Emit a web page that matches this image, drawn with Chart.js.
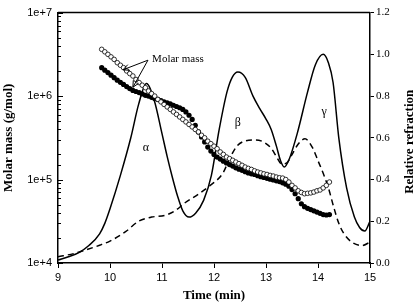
<!DOCTYPE html>
<html>
<head>
<meta charset="utf-8">
<script src="https://cdn.jsdelivr.net/npm/chart.js@4.4.1/dist/chart.umd.min.js"></script>
<style>
  html, body { margin: 0; padding: 0; background: #fff; }
  canvas { display: block; }
</style>
</head>
<body>
<canvas id="chart" width="416" height="305"></canvas>
<script>
// Elution times (min) of the molar mass points
const massTimes = [
  9.84, 9.90, 9.96, 10.02, 10.08, 10.14, 10.20, 10.26, 10.32, 10.38,
  10.44, 10.50, 10.56, 10.62, 10.68, 10.74, 10.80, 10.86, 10.92, 10.98,
  11.04, 11.10, 11.16, 11.22, 11.28, 11.34, 11.40, 11.46, 11.52, 11.58,
  11.64, 11.70, 11.76, 11.82, 11.88, 11.94, 12.00, 12.06, 12.12, 12.18,
  12.24, 12.30, 12.36, 12.42, 12.48, 12.54, 12.60, 12.66, 12.72, 12.78,
  12.84, 12.90, 12.96, 13.02, 13.08, 13.14, 13.20, 13.26, 13.32, 13.38,
  13.44, 13.50, 13.56, 13.62, 13.68, 13.74, 13.80, 13.86, 13.92, 13.98,
  14.04, 14.10, 14.16, 14.22
];
// Molar mass (g/mol), open circles
const massOpen = [
  3.63e6, 3.39e6, 3.16e6, 2.95e6, 2.75e6, 2.51e6, 2.34e6, 2.19e6, 2.00e6, 1.86e6,
  1.74e6, 1.58e6, 1.45e6, 1.35e6, 1.26e6, 1.15e6, 1.07e6, 1.00e6, 9.12e5, 8.51e5,
  7.94e5, 7.41e5, 6.92e5, 6.46e5, 6.03e5, 5.62e5, 5.25e5, 4.90e5, 4.57e5, 4.27e5,
  3.98e5, 3.72e5, 3.39e5, 3.16e5, 2.88e5, 2.69e5, 2.51e5, 2.34e5, 2.14e5, 2.00e5,
  1.86e5, 1.78e5, 1.70e5, 1.62e5, 1.55e5, 1.48e5, 1.41e5, 1.36e5, 1.32e5, 1.27e5,
  1.23e5, 1.20e5, 1.17e5, 1.15e5, 1.12e5, 1.10e5, 1.07e5, 1.05e5, 1.04e5, 1.00e5,
  9.33e4, 8.51e4, 7.94e4, 7.33e4, 7.00e4, 6.76e4, 6.84e4, 6.92e4, 7.08e4, 7.33e4,
  7.50e4, 7.94e4, 8.51e4, 9.33e4
];
// Molar mass (g/mol), filled circles
const massFilled = [
  2.19e6, 2.04e6, 1.91e6, 1.78e6, 1.66e6, 1.55e6, 1.46e6, 1.38e6, 1.30e6, 1.23e6,
  1.17e6, 1.135e6, 1.10e6, 1.06e6, 1.02e6, 1.00e6, 9.66e5, 9.33e5, 9.12e5, 8.81e5,
  8.51e5, 8.32e5, 8.04e5, 7.76e5, 7.50e5, 7.24e5, 6.92e5, 6.46e5, 5.89e5, 5.25e5,
  4.47e5, 3.72e5, 3.24e5, 2.82e5, 2.45e5, 2.19e5, 2.00e5, 1.86e5, 1.76e5, 1.66e5,
  1.58e5, 1.51e5, 1.45e5, 1.38e5, 1.33e5, 1.29e5, 1.24e5, 1.20e5, 1.17e5, 1.15e5,
  1.11e5, 1.08e5, 1.06e5, 1.035e5, 1.01e5, 9.89e4, 9.66e4, 9.44e4, 9.12e4, 8.81e4,
  8.32e4, 7.59e4, 6.76e4, 5.89e4, 5.13e4, 4.73e4, 4.52e4, 4.37e4, 4.22e4, 4.07e4,
  3.94e4, 3.80e4, 3.76e4, 3.80e4
];

// Relative refraction, solid trace
const solidTimes = [
  9.0, 9.2, 9.4, 9.6, 9.8, 9.9, 10.0, 10.2, 10.4, 10.55,
  10.7, 10.85, 11.0, 11.1, 11.2, 11.3, 11.4, 11.52, 11.65, 11.8,
  11.95, 12.1, 12.25, 12.35, 12.46, 12.6, 12.75, 12.88, 13.0, 13.1,
  13.2, 13.28, 13.35, 13.45, 13.6, 13.8, 13.95, 14.1, 14.2, 14.29,
  14.4, 14.55, 14.7, 14.8, 14.9, 15.0
];
const solidRI = [
  0.014, 0.03, 0.05, 0.085, 0.14, 0.19, 0.26, 0.42, 0.60, 0.76,
  0.86, 0.78, 0.62, 0.51, 0.41, 0.32, 0.25, 0.22, 0.24, 0.30,
  0.42, 0.64, 0.82, 0.89, 0.915, 0.89, 0.80, 0.74, 0.69, 0.64,
  0.56, 0.49, 0.46, 0.50, 0.62, 0.82, 0.95, 1.0, 0.96, 0.865,
  0.60, 0.36, 0.22, 0.17, 0.153, 0.2
];

// Relative refraction, dashed trace
const dashTimes = [
  9.0, 9.3, 9.5, 9.8, 10.0, 10.3, 10.55, 10.8, 11.05, 11.25,
  11.45, 11.7, 11.92, 12.17, 12.3, 12.44, 12.6, 12.8, 12.95, 13.1,
  13.2, 13.3, 13.4, 13.5, 13.62, 13.75, 13.9, 14.0, 14.1, 14.2,
  14.3, 14.4, 14.5, 14.65, 14.85, 15.0
];
const dashRI = [
  0.03, 0.045, 0.06, 0.085, 0.105, 0.15, 0.20, 0.22, 0.228, 0.25,
  0.29, 0.33, 0.37, 0.43, 0.50, 0.56, 0.585, 0.59, 0.58, 0.55,
  0.51, 0.475, 0.48, 0.52, 0.57, 0.595, 0.55, 0.49, 0.43, 0.36,
  0.27, 0.19, 0.14, 0.10, 0.084, 0.10
];

const xTicks = [9, 10, 11, 12, 13, 14, 15];

// peak labels, placed in (time, relative refraction) units
const peakLabels = [
  { text: 'α', t: 10.69, v: 0.553 },
  { text: 'β', t: 12.46, v: 0.674 },
  { text: 'γ', t: 14.12, v: 0.726 },
];

const toPoints = (xs, ys) => xs.map((x, i) => ({ x, y: ys[i] }));
const isDecade = (v) => Math.abs(Math.log10(v) - Math.round(Math.log10(v))) < 1e-9;

function arrow(ctx, x0, y0, x1, y1) {
  const ang = Math.atan2(y1 - y0, x1 - x0);
  const len = 7, spread = 0.45;
  ctx.beginPath();
  ctx.moveTo(x0, y0);
  ctx.lineTo(x1, y1);
  ctx.moveTo(x1 - len * Math.cos(ang - spread), y1 - len * Math.sin(ang - spread));
  ctx.lineTo(x1, y1);
  ctx.lineTo(x1 - len * Math.cos(ang + spread), y1 - len * Math.sin(ang + spread));
  ctx.stroke();
}

const decor = {
  id: 'decor',
  afterDraw(chart) {
    const { ctx, chartArea: a, scales } = chart;
    const x = scales.x, y = scales.y, y2 = scales.y2;
    ctx.save();
    ctx.strokeStyle = '#000';
    ctx.fillStyle = '#000';

    // top frame
    ctx.lineWidth = 1.5;
    ctx.beginPath();
    ctx.moveTo(a.left, a.top);
    ctx.lineTo(a.right, a.top);
    ctx.stroke();

    // inward ticks on the log axis
    ctx.lineWidth = 1;
    y.ticks.forEach((t) => {
      const py = Math.round(y.getPixelForValue(t.value)) + 0.5;
      const len = isDecade(t.value) ? 5 : 3;
      ctx.beginPath();
      ctx.moveTo(a.left, py);
      ctx.lineTo(a.left + len, py);
      ctx.stroke();
    });

    // axis titles
    ctx.font = 'bold 13px "Liberation Serif"';
    ctx.textAlign = 'center';
    ctx.textBaseline = 'middle';
    const cy = (a.top + a.bottom) / 2;
    ctx.save();
    ctx.translate(9, cy);
    ctx.rotate(-Math.PI / 2);
    ctx.fillText('Molar mass (g/mol)', 0, 0);
    ctx.restore();
    ctx.save();
    ctx.translate(410, cy + 4);
    ctx.rotate(-Math.PI / 2);
    ctx.fillText('Relative refraction', 0, 0);
    ctx.restore();
    ctx.fillText('Time (min)', (a.left + a.right) / 2, 296);

    // peak labels
    ctx.font = '12px "Liberation Serif"';
    peakLabels.forEach((p) => {
      ctx.fillText(p.text, x.getPixelForValue(p.t), y2.getPixelForValue(p.v));
    });

    // "Molar mass" callout with two arrows
    ctx.font = '11px "Liberation Serif"';
    ctx.textAlign = 'left';
    ctx.fillText('Molar mass', x.getPixelForValue(10.81), y2.getPixelForValue(0.977));
    const ox = x.getPixelForValue(10.73), oy = y2.getPixelForValue(0.972);
    ctx.lineWidth = 1;
    arrow(ctx, ox, oy, x.getPixelForValue(10.25), y2.getPixelForValue(0.926));
    arrow(ctx, ox, oy, x.getPixelForValue(10.44), y2.getPixelForValue(0.842));
    ctx.restore();
  }
};

new Chart(document.getElementById('chart'), {
  type: 'scatter',
  data: {
    datasets: [
      {
        label: 'Molar mass (open)',
        data: toPoints(massTimes, massOpen),
        yAxisID: 'y',
        showLine: false,
        pointRadius: 2.3,
        pointBackgroundColor: '#fff',
        pointBorderColor: '#000',
        pointBorderWidth: 0.8,
        order: 0,
      },
      {
        label: 'Molar mass (filled)',
        data: toPoints(massTimes, massFilled),
        yAxisID: 'y',
        showLine: false,
        pointRadius: 2.6,
        pointBackgroundColor: '#000',
        pointBorderColor: '#000',
        pointBorderWidth: 0,
        order: 1,
      },
      {
        label: 'RI solid',
        data: toPoints(solidTimes, solidRI),
        yAxisID: 'y2',
        showLine: true,
        pointRadius: 0,
        borderColor: '#000',
        borderWidth: 1.5,
        cubicInterpolationMode: 'monotone',
        order: 2,
      },
      {
        label: 'RI dashed',
        data: toPoints(dashTimes, dashRI),
        yAxisID: 'y2',
        showLine: true,
        pointRadius: 0,
        borderColor: '#000',
        borderWidth: 1.5,
        borderDash: [6, 4],
        cubicInterpolationMode: 'monotone',
        order: 3,
      },
    ],
  },
  options: {
    responsive: false,
    animation: false,
    devicePixelRatio: 1,
    layout: { padding: { top: 5, left: 0, right: 0, bottom: 0 } },
    plugins: {
      legend: { display: false },
      tooltip: { enabled: false },
    },
    scales: {
      x: {
        type: 'linear',
        min: 9,
        max: 15,
        afterBuildTicks: (s) => { s.ticks = xTicks.map((v) => ({ value: v })); },
        afterFit: (s) => { s.height = 42; },
        ticks: {
          color: '#000',
          font: { family: 'Liberation Sans', size: 11 },
          padding: 3,
          callback: (v) => String(v),
        },
        grid: { drawOnChartArea: false, drawTicks: true, tickLength: 5, color: '#000' },
        border: { display: true, color: '#000', width: 1.5 },
      },
      y: {
        type: 'logarithmic',
        position: 'left',
        min: 1e4,
        max: 1e7,
        afterFit: (s) => { s.width = 58; },
        ticks: {
          color: '#000',
          autoSkip: false,
          font: { family: 'Liberation Sans', size: 11 },
          padding: 6,
          callback: (v) => (isDecade(v) ? '1e+' + Math.round(Math.log10(v)) : ''),
        },
        grid: { drawOnChartArea: false, drawTicks: false, color: '#000' },
        border: { display: true, color: '#000', width: 1.5 },
      },
      y2: {
        type: 'linear',
        position: 'right',
        min: 0,
        max: 1.2,
        afterFit: (s) => { s.width = 46; },
        ticks: {
          stepSize: 0.2,
          color: '#000',
          font: { family: 'Liberation Serif', size: 11 },
          padding: 2,
          callback: (v) => Number(v).toFixed(1),
        },
        grid: { drawOnChartArea: false, drawTicks: true, tickLength: 4, color: '#000' },
        border: { display: true, color: '#000', width: 1.5 },
      },
    },
  },
  plugins: [decor],
});
</script>
</body>
</html>
